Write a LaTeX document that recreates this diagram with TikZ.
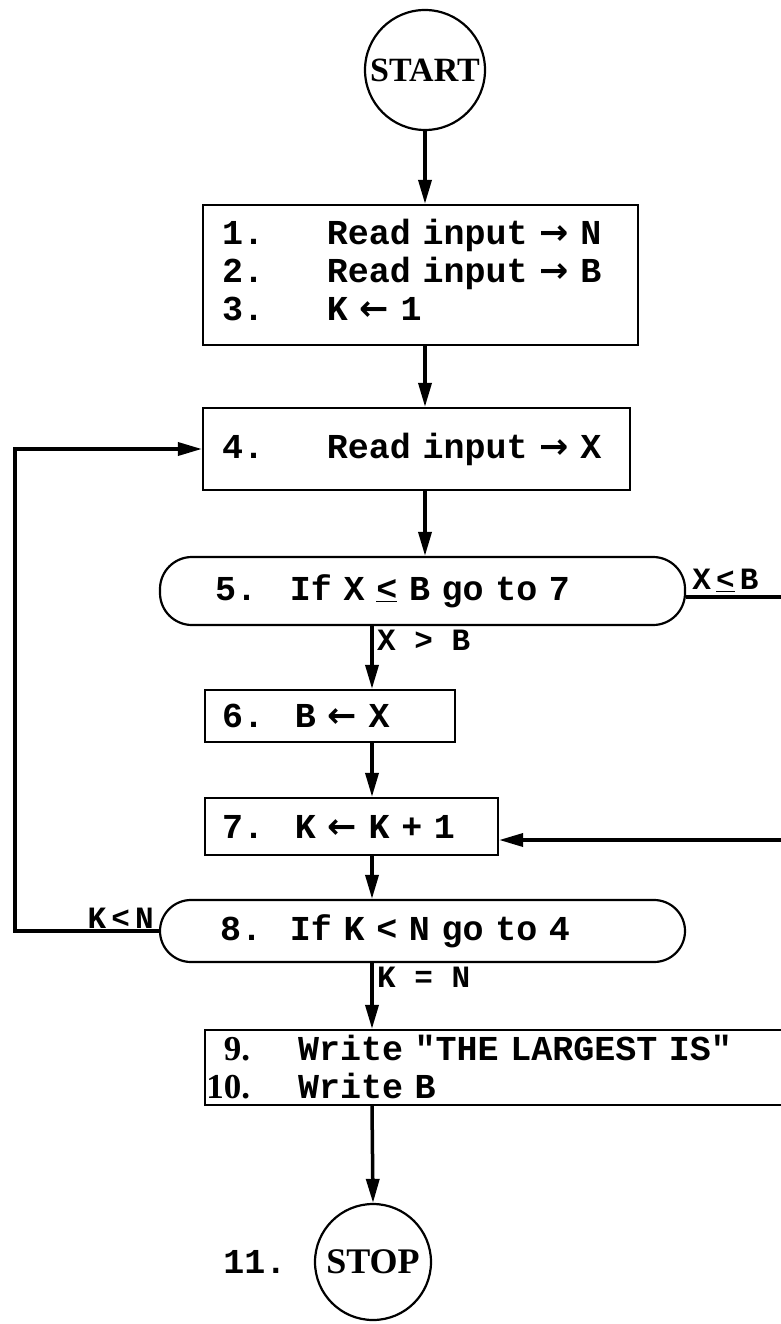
\documentclass[tikz,border=0pt]{standalone}
\usepackage{fontspec}
\setmainfont{Liberation Serif}
\newfontfamily\tw{Liberation Mono}
\newfontfamily\dv{DejaVu Sans}
\newcommand{\ra}{{\dv\bfseries →}}
\newcommand{\la}{{\dv\bfseries ←}}
\usetikzlibrary{arrows.meta}
\begin{document}
\begin{tikzpicture}[x=1pt,y=-1pt,
  box/.style={draw, line width=2.2pt, font=\tw\bfseries\fontsize{35}{38}\selectfont, align=left},
  arr/.style={line width=3.5pt, -{Triangle[length=24pt,width=13pt]}},
  lbl/.style={font=\tw\bfseries\fontsize{31}{34}\selectfont, inner sep=2pt},
  term/.style={draw, circle, line width=2.2pt, font=\bfseries\fontsize{34}{38}\selectfont, inner sep=0pt}]
\useasboundingbox (0,0) rectangle (780,1324);
% nodes
\node[term, minimum size=120pt] (start) at (425,70) {START};
\node[box, text width=397pt, inner xsep=19pt, minimum height=140pt] (b1) at (420.5,275)
  {\begin{tabular}{@{}p{105pt}@{}l@{}}1. & Read input \ra\ N\\2. & Read input \ra\ B\\3. & K \la\ 1\end{tabular}};
\node[box, text width=389pt, inner xsep=19pt, minimum height=82pt] (b4) at (416.5,449)
  {\makebox[105pt][l]{4.}Read input \ra\ X};
\node[box, rounded corners=32pt, text width=415pt, inner xsep=55pt, minimum height=68pt] (b5) at (422.5,591)
  {\makebox[75pt][l]{5.}If X \underline{<} B go to 7};
\node[box, text width=216pt, inner xsep=17pt, minimum height=52pt] (b6) at (330,716)
  {\makebox[73pt][l]{6.}B \la\ X};
\node[box, text width=259pt, inner xsep=17pt, minimum height=57pt] (b7) at (351.5,826.5)
  {\makebox[73pt][l]{7.}K \la\ K + 1};
\node[box, rounded corners=31pt, text width=405pt, inner xsep=60pt, minimum height=62pt] (b8) at (422.5,931)
  {\makebox[70pt][l]{8.}If K < N go to 4};
\node[box, text width=619pt, inner xsep=3pt, minimum height=75pt] (b9) at (517.5,1067.5)
  {\makebox[42pt][r]{\rmfamily 9.}\hspace{48pt}Write "THE LARGEST IS"\\\makebox[42pt][r]{\rmfamily 10.}\hspace{48pt}Write B};
\node[term, minimum size=116pt, font=\bfseries\fontsize{36}{40}\selectfont] (stop) at (373,1262) {STOP};
\node[font=\tw\bfseries\fontsize{35}{38}\selectfont] (n11) at (255,1262) {11.};
% helper coordinates
\coordinate (cx) at (372,0);
\coordinate (r1) at (800,597);
\coordinate (r2) at (800,840);
\coordinate (l1) at (15,0);
% connectors
\draw[arr] (start) -- (start |- b1.north);
\draw[arr] (b1.south -| start) -- (b4.north -| start);
\draw[arr] (b4.south -| start) -- (b5.north -| start);
\draw[arr] (b5.south -| cx) -- (b6.north -| cx);
\draw[arr] (b6.south -| cx) -- (b7.north -| cx);
\draw[arr] (b7.south -| cx) -- (b8.north -| cx);
\draw[arr] (b8.south -| cx) -- (b9.north -| cx);
\draw[arr] (b9.south -| cx) -- (stop.north);
\draw[arr] (b5.east |- r1) -- (r1) -- (r2) -- (r2 -| b7.east);
\draw[arr] (b8.west) -- (b8.west -| l1) -- (l1 |- b4.west) -- (b4.west);
% labels
\node[lbl, anchor=north west] (lxgb) at ([xshift=3pt,yshift=-2pt]b5.south -| cx) {X > B};
\node[lbl, anchor=north west] (lkeq) at ([xshift=3pt,yshift=-2pt]b8.south -| cx) {K = N};
\node[lbl, anchor=south west] (lxleb) at ([xshift=4pt,yshift=3pt]b5.east |- r1) {X\,\underline{<}\,B};
\node[lbl, anchor=south east] (lklt) at ([xshift=-3pt]b8.west) {K\,<\,N};
\end{tikzpicture}
\end{document}
